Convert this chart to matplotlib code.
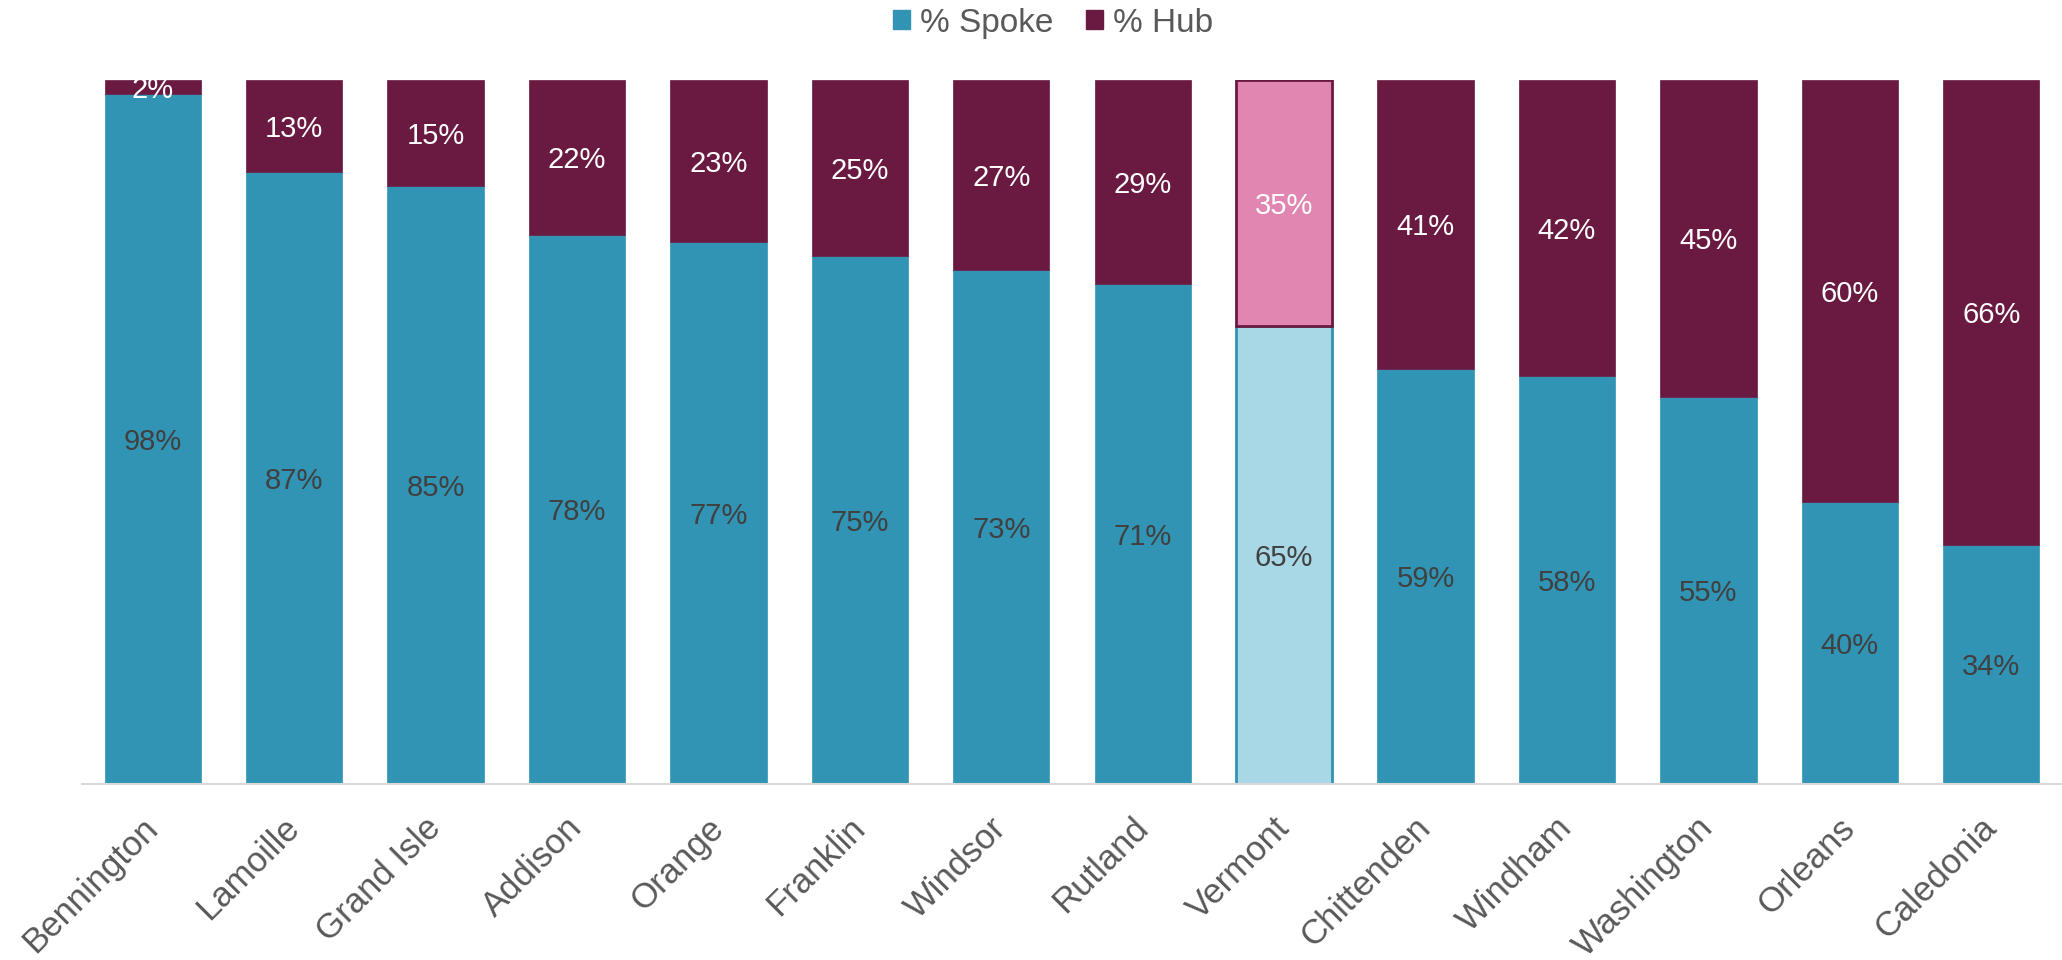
import matplotlib.pyplot as plt
import numpy as np

# share of patients by county: spoke vs hub
counties = ['Bennington', 'Lamoille', 'Grand Isle', 'Addison', 'Orange', 'Franklin',
            'Windsor', 'Rutland', 'Vermont', 'Chittenden', 'Windham', 'Washington',
            'Orleans', 'Caledonia']
spoke = [98, 87, 85, 78, 77, 75, 73, 71, 65, 59, 58, 55, 40, 34]
hub = [2, 13, 15, 22, 23, 25, 27, 29, 35, 41, 42, 45, 60, 66]
highlight = 'Vermont'

plt.rcParams['font.family'] = ['Liberation Sans', 'DejaVu Sans']

c_spoke = '#3194B4'
c_hub = '#6A1A41'
c_spoke_hi = '#A8D8E6'
c_hub_hi = '#E086B0'

fig = plt.figure(figsize=(20.62, 9.6), dpi=100)
ax = fig.add_axes([82 / 2062, 176 / 960, 1 - 82 / 2062, 704 / 960])

x = np.arange(len(counties))
sp = np.array(spoke, dtype=float)
hb = np.array(hub, dtype=float)

for i, name in enumerate(counties):
    if name == highlight:
        ax.bar(i, sp[i], width=0.68, color=c_spoke_hi, edgecolor=c_spoke, linewidth=2)
        ax.bar(i, hb[i], bottom=sp[i], width=0.68, color=c_hub_hi, edgecolor=c_hub, linewidth=2)
    else:
        ax.bar(i, sp[i], width=0.68, color=c_spoke, edgecolor=c_spoke, linewidth=0.5)
        ax.bar(i, hb[i], bottom=sp[i], width=0.68, color=c_hub, edgecolor=c_hub, linewidth=0.5)
    ax.text(i, sp[i] / 2, f'{spoke[i]}%', ha='center', va='center_baseline',
            fontsize=21, color='#404040')
    ax.text(i, sp[i] + hb[i] / 2, f'{hub[i]}%', ha='center', va='center_baseline',
            fontsize=21, color='white')

ax.set_xlim(-0.5, 13.5)
ax.set_ylim(0, 100)
ax.set_yticks([])
for s in ['top', 'right', 'left']:
    ax.spines[s].set_visible(False)
ax.spines['bottom'].set_color('#D9D9D9')
ax.spines['bottom'].set_linewidth(1.5)

ax.set_xticks(x)
ax.set_xticklabels(counties, rotation=45, ha='right', va='center',
                   rotation_mode='anchor', fontsize=25, color='#595959')
ax.tick_params(axis='x', length=0, pad=28)

handles = [plt.Rectangle((0, 0), 1, 1, color=c_spoke),
           plt.Rectangle((0, 0), 1, 1, color=c_hub)]
fig.legend(handles, ['% Spoke', '% Hub'], loc='center', bbox_to_anchor=(1053 / 2062, 0.976),
           ncol=2, frameon=False, fontsize=24, labelcolor='#595959',
           handlelength=0.5, handleheight=0.5, handletextpad=0.3, columnspacing=1.0)

fig.savefig('out.png', dpi=100)
